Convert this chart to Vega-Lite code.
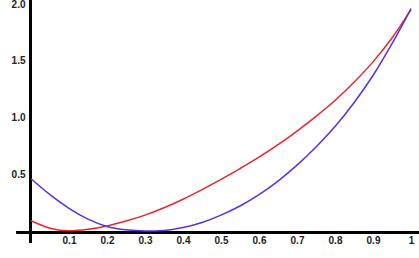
{
  "$schema": "https://vega.github.io/schema/vega-lite/v6.json",
  "width": 380,
  "height": 227,
  "autosize": {"type": "none"},
  "padding": {"left": 31, "top": 4, "right": 8, "bottom": 27},
  "background": "white",
  "config": {"view": {"stroke": null}},
  "data": {"values": [
    {"x": 0.00, "y": 0.09, "s": "red"},
    {"x": 0.05, "y": 0.025, "s": "red"},
    {"x": 0.10, "y": 0.002, "s": "red"},
    {"x": 0.15, "y": 0.015, "s": "red"},
    {"x": 0.20, "y": 0.045, "s": "red"},
    {"x": 0.25, "y": 0.088, "s": "red"},
    {"x": 0.30, "y": 0.14, "s": "red"},
    {"x": 0.35, "y": 0.205, "s": "red"},
    {"x": 0.40, "y": 0.28, "s": "red"},
    {"x": 0.45, "y": 0.365, "s": "red"},
    {"x": 0.50, "y": 0.455, "s": "red"},
    {"x": 0.55, "y": 0.55, "s": "red"},
    {"x": 0.60, "y": 0.65, "s": "red"},
    {"x": 0.65, "y": 0.76, "s": "red"},
    {"x": 0.70, "y": 0.88, "s": "red"},
    {"x": 0.75, "y": 1.01, "s": "red"},
    {"x": 0.80, "y": 1.15, "s": "red"},
    {"x": 0.85, "y": 1.31, "s": "red"},
    {"x": 0.90, "y": 1.49, "s": "red"},
    {"x": 0.95, "y": 1.70, "s": "red"},
    {"x": 1.00, "y": 1.95, "s": "red"},
    {"x": 0.00, "y": 0.46, "s": "blue"},
    {"x": 0.05, "y": 0.32, "s": "blue"},
    {"x": 0.10, "y": 0.20, "s": "blue"},
    {"x": 0.15, "y": 0.105, "s": "blue"},
    {"x": 0.20, "y": 0.04, "s": "blue"},
    {"x": 0.25, "y": 0.01, "s": "blue"},
    {"x": 0.30, "y": 0.0, "s": "blue"},
    {"x": 0.35, "y": 0.005, "s": "blue"},
    {"x": 0.40, "y": 0.03, "s": "blue"},
    {"x": 0.45, "y": 0.075, "s": "blue"},
    {"x": 0.50, "y": 0.14, "s": "blue"},
    {"x": 0.55, "y": 0.22, "s": "blue"},
    {"x": 0.60, "y": 0.32, "s": "blue"},
    {"x": 0.65, "y": 0.44, "s": "blue"},
    {"x": 0.70, "y": 0.58, "s": "blue"},
    {"x": 0.75, "y": 0.74, "s": "blue"},
    {"x": 0.80, "y": 0.92, "s": "blue"},
    {"x": 0.85, "y": 1.13, "s": "blue"},
    {"x": 0.90, "y": 1.37, "s": "blue"},
    {"x": 0.95, "y": 1.65, "s": "blue"},
    {"x": 1.00, "y": 1.96, "s": "blue"}
  ]},
  "layer": [
    {
      "mark": {"type": "rule", "color": "#000", "strokeWidth": 2.5},
      "encoding": {
        "x": {"datum": -0.037, "type": "quantitative", "scale": {"domain": [0, 1], "nice": false, "zero": false}},
        "x2": {"datum": 1.03},
        "y": {"datum": -0.012, "type": "quantitative", "scale": {"domain": [0, 2], "nice": false}}
      }
    },
    {
      "mark": {"type": "rule", "color": "#000", "strokeWidth": 2.5},
      "encoding": {
        "x": {"datum": -0.002, "type": "quantitative"},
        "y": {"datum": -0.106, "type": "quantitative"},
        "y2": {"datum": 2.04}
      }
    },
    {
      "mark": {"type": "line", "interpolate": "monotone", "strokeWidth": 1.5},
      "encoding": {
        "x": {
          "field": "x", "type": "quantitative",
          "scale": {"domain": [0, 1], "nice": false, "zero": false},
          "axis": {
            "domain": false, "ticks": false, "grid": false, "title": null,
            "values": [0.1, 0.2, 0.3, 0.4, 0.5, 0.6, 0.7, 0.8, 0.9, 1],
            "labelExpr": "datum.value == 1 ? '1' : format(datum.value, '.1f')",
            "labelFont": "Liberation Sans", "labelFontWeight": "bold", "labelFontSize": 10,
            "labelColor": "#222", "labelPadding": 4, "labelFlush": false, "labelOverlap": false
          }
        },
        "y": {
          "field": "y", "type": "quantitative",
          "scale": {"domain": [0, 2], "nice": false},
          "axis": {
            "domain": false, "ticks": false, "grid": false, "title": null,
            "values": [0.5, 1, 1.5, 2], "format": ".1f",
            "labelFont": "Liberation Sans", "labelFontWeight": "bold", "labelFontSize": 10,
            "labelColor": "#222", "labelPadding": 6, "labelFlush": false, "labelOverlap": false
          }
        },
        "color": {
          "field": "s", "type": "nominal",
          "scale": {"domain": ["red", "blue"], "range": ["#e8262b", "#5a2fe6"]},
          "legend": null
        },
        "detail": {"field": "s"}
      }
    }
  ]
}
